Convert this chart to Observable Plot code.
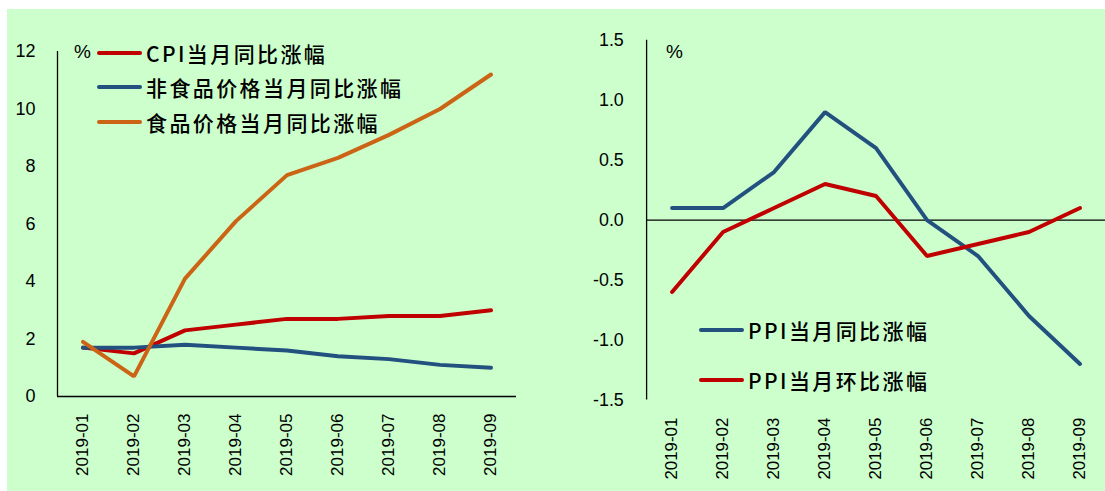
<!DOCTYPE html>
<html>
<head>
<meta charset="utf-8">
<script src="https://cdn.jsdelivr.net/npm/d3@7"></script>
<script src="https://cdn.jsdelivr.net/npm/@observablehq/plot@0.6"></script>
<style>
  html, body { margin: 0; padding: 0; background: #fff; }
  #wrap { position: relative; width: 1105px; height: 491px; overflow: hidden; background: #fff; }
  #bg { position: absolute; left: 7px; top: 9px; right: 0; bottom: 0; background: #ccffcc; }
  .plot { position: absolute; top: 0; }
  .plot svg { background: transparent !important; overflow: visible; }
  .leg { position: absolute; display: flex; align-items: center; height: 30px;
         font-family: "Noto Sans CJK SC", sans-serif; font-size: 21px; font-weight: 500; letter-spacing: 2.4px; color: #000; white-space: nowrap; }
  .sw { display: inline-block; width: 45px; height: 4px; border-radius: 2px; margin-right: 4px; }
  .pct { position: absolute; font-family: "Liberation Sans", Arial, sans-serif; font-size: 19px; color: #000; line-height: 20px; }
</style>
</head>
<body>
<div id="wrap">
  <div id="bg"></div>
  <div id="left" class="plot" style="left:0px"></div>
  <div id="right" class="plot" style="left:545px"></div>
  <div class="pct" style="left:74px; top:42px">%</div>
  <div class="pct" style="left:666px; top:42px">%</div>
  <div id="legL"></div>
  <div id="legR"></div>
</div>
<script>
const months = ["2019-01","2019-02","2019-03","2019-04","2019-05","2019-06","2019-07","2019-08","2019-09"];
const cpiYoY     = [1.7, 1.5, 2.3, 2.5, 2.7, 2.7, 2.8, 2.8, 3.0];
const nonFoodYoY = [1.7, 1.7, 1.8, 1.7, 1.6, 1.4, 1.3, 1.1, 1.0];
const foodYoY    = [1.9, 0.7, 4.1, 6.1, 7.7, 8.3, 9.1, 10.0, 11.2];
const ppiYoY     = [0.1, 0.1, 0.4, 0.9, 0.6, 0.0, -0.3, -0.8, -1.2];
const ppiMoM     = [-0.6, -0.1, 0.1, 0.3, 0.2, -0.3, -0.2, -0.1, 0.1];
const leftTicks  = [0, 2, 4, 6, 8, 10, 12];
const rightTicks = [-1.5, -1.0, -0.5, 0.0, 0.5, 1.0, 1.5];

const leftSeries = [
  {name: "CPI当月同比涨幅", values: cpiYoY, color: "#c00000"},
  {name: "非食品价格当月同比涨幅", values: nonFoodYoY, color: "#22507f"},
  {name: "食品价格当月同比涨幅", values: foodYoY, color: "#cc6415"}
];
const rightSeries = [
  {name: "PPI当月同比涨幅", values: ppiYoY, color: "#22507f"},
  {name: "PPI当月环比涨幅", values: ppiMoM, color: "#c00000"}
];

const toRows = (series) => series.flatMap(s => s.values.map((v, i) => ({i, v, name: s.name, color: s.color})));
const idx = d3.range(months.length);
const font = "Liberation Sans, Arial, sans-serif";

function xAxis(pad) {
  return Plot.axisX(idx, {label: null, tickFormat: i => months[i], tickRotate: -90, tickSize: 0, tickPadding: pad, fontSize: 17, fill: "#000"});
}

const left = Plot.plot({
  width: 540, height: 491,
  marginLeft: 57, marginRight: 24, marginTop: 51, marginBottom: 95,
  style: {fontFamily: font, background: "transparent", color: "#000"},
  x: {domain: [-0.5, 8.5], axis: null},
  y: {domain: [0, 12], axis: null},
  marks: [
    Plot.axisY(leftTicks, {label: null, tickSize: 0, tickPadding: 22, fontSize: 18, fill: "#000"}),
    xAxis(17),
    Plot.ruleX([-0.5], {stroke: "#000", strokeWidth: 1.3}),
    Plot.ruleY([0], {stroke: "#000", strokeWidth: 1.3}),
    ...leftSeries.map(s => Plot.line(toRows([s]), {x: "i", y: "v", stroke: s.color, strokeWidth: 4, strokeLinecap: "round", strokeLinejoin: "miter"}))
  ]
});
document.getElementById("left").appendChild(left);

const right = Plot.plot({
  width: 565, height: 491,
  marginLeft: 102, marginRight: 0, marginTop: 40, marginBottom: 88,
  style: {fontFamily: font, background: "transparent", color: "#000"},
  x: {domain: [-0.5, 8.5], axis: null},
  y: {domain: [-1.5, 1.5], axis: null},
  marks: [
    Plot.axisY(rightTicks, {label: null, tickSize: 0, tickPadding: 23, fontSize: 18, fill: "#000", tickFormat: d => d.toFixed(1)}),
    xAxis(18),
    Plot.ruleX([-0.5], {stroke: "#000", strokeWidth: 1.3}),
    Plot.ruleY([0], {stroke: "#000", strokeWidth: 1.3}),
    ...rightSeries.map(s => Plot.line(toRows([s]), {x: "i", y: "v", stroke: s.color, strokeWidth: 4, strokeLinecap: "round", strokeLinejoin: "miter"}))
  ]
});
document.getElementById("right").appendChild(right);

function legend(el, series, x, ys) {
  series.forEach((s, k) => {
    const d = document.createElement("div");
    d.className = "leg";
    d.style.left = x + "px";
    d.style.top = (ys[k] - 15) + "px";
    d.innerHTML = `<span class="sw" style="background:${s.color}"></span><span>${s.name}</span>`;
    el.appendChild(d);
  });
}
legend(document.getElementById("legL"), leftSeries, 97, [52.5, 87, 122]);
legend(document.getElementById("legR"), rightSeries, 699, [330, 380]);
</script>
</body>
</html>
